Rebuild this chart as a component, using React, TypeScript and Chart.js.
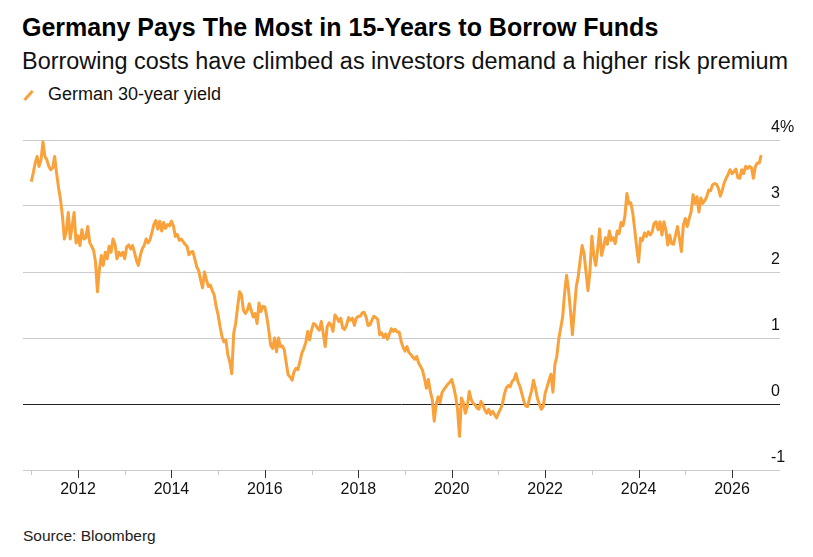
import { useEffect, useRef } from "react";
import { Chart, registerables } from "chart.js";

Chart.register(...registerables);

// German 30-year yield, read twice a month off the reference
const y2011 = [3.37, 3.5, 3.65, 3.75, 3.6, 3.7, 3.97, 3.75, 3.7, 3.6, 3.55, 3.58, 3.75, 3.5, 3.28, 3.1, 2.85, 2.5, 2.62, 2.9, 2.5, 2.7, 2.9, 2.44];
const y2012 = [2.55, 2.4, 2.64, 2.5, 2.52, 2.69, 2.45, 2.39, 2.33, 2.15, 1.7, 2.05, 2.25, 2.1, 2.3, 2.2, 2.39, 2.3, 2.5, 2.42, 2.2, 2.3, 2.25, 2.3];
const y2013 = [2.2, 2.38, 2.41, 2.35, 2.4, 2.3, 2.18, 2.1, 2.25, 2.35, 2.4, 2.5, 2.44, 2.49, 2.6, 2.72, 2.78, 2.65, 2.77, 2.62, 2.75, 2.66, 2.72, 2.7];
const y2014 = [2.77, 2.7, 2.54, 2.57, 2.48, 2.5, 2.46, 2.42, 2.39, 2.26, 2.3, 2.31, 2.2, 2.08, 2.02, 1.88, 1.76, 2.0, 1.88, 1.78, 1.8, 1.72, 1.65, 1.47];
const y2015 = [1.35, 1.17, 1.02, 0.94, 0.97, 0.74, 0.64, 0.46, 1.07, 1.22, 1.47, 1.7, 1.65, 1.42, 1.37, 1.42, 1.52, 1.42, 1.32, 1.37, 1.22, 1.53, 1.4, 1.48];
const y2016 = [1.47, 1.32, 1.12, 0.89, 0.84, 1.0, 0.79, 1.0, 0.87, 0.88, 0.82, 0.62, 0.44, 0.41, 0.36, 0.49, 0.54, 0.52, 0.64, 0.77, 0.84, 0.93, 1.1, 0.97];
const y2017 = [1.12, 1.22, 1.2, 1.15, 1.12, 1.25, 1.07, 0.87, 1.17, 1.23, 1.2, 1.1, 1.35, 1.31, 1.25, 1.3, 1.15, 1.13, 1.2, 1.31, 1.27, 1.3, 1.19, 1.3];
const y2018 = [1.33, 1.33, 1.38, 1.39, 1.32, 1.19, 1.2, 1.27, 1.33, 1.31, 1.28, 1.05, 1.08, 1.01, 1.06, 0.98, 1.06, 1.14, 1.1, 1.13, 1.09, 1.09, 0.95, 0.86];
const y2019 = [0.8, 0.87, 0.78, 0.75, 0.71, 0.68, 0.72, 0.62, 0.57, 0.51, 0.39, 0.24, 0.37, 0.19, 0.07, -0.26, -0.01, 0.11, 0.02, 0.17, 0.22, 0.26, 0.3, 0.33];
const y2020 = [0.37, 0.26, 0.12, -0.08, -0.49, 0.09, 0.02, -0.14, -0.04, 0.19, 0.07, 0.01, -0.01, -0.06, -0.08, 0.04, -0.01, -0.09, -0.14, -0.08, -0.16, -0.11, -0.16, -0.21];
const y2021 = [-0.14, -0.08, -0.01, 0.14, 0.24, 0.28, 0.26, 0.34, 0.37, 0.46, 0.34, 0.27, 0.16, 0.05, -0.03, -0.04, 0.09, 0.2, 0.36, 0.24, 0.09, 0, -0.08, -0.04];
const y2022 = [0.16, 0.26, 0.36, 0.45, 0.18, 0.6, 0.72, 0.99, 1.15, 1.32, 1.68, 1.95, 1.73, 1.42, 1.05, 1.42, 1.78, 1.93, 2.18, 2.4, 2.28, 2.0, 1.72, 2.0];
const y2023 = [2.54, 2.25, 2.1, 2.35, 2.65, 2.25, 2.38, 2.52, 2.42, 2.62, 2.48, 2.52, 2.43, 2.62, 2.58, 2.75, 2.7, 2.85, 3.19, 3.04, 3.05, 2.9, 2.65, 2.38];
const y2024 = [2.15, 2.51, 2.48, 2.59, 2.54, 2.61, 2.56, 2.61, 2.74, 2.76, 2.64, 2.76, 2.56, 2.76, 2.64, 2.41, 2.56, 2.43, 2.42, 2.56, 2.69, 2.51, 2.31, 2.71];
const y2025 = [2.81, 2.69, 2.81, 2.91, 3.17, 3.04, 3.14, 2.91, 3.12, 3.04, 3.08, 3.14, 3.24, 3.23, 3.32, 3.34, 3.33, 3.27, 3.15, 3.24, 3.35, 3.42, 3.48, 3.55];
const y2026 = [3.49, 3.52, 3.56, 3.43, 3.42, 3.55, 3.49, 3.6, 3.57, 3.6, 3.58, 3.42, 3.6, 3.65, 3.65, 3.77];

const seriesYears = [2011, 2012, 2013, 2014, 2015, 2016, 2017, 2018, 2019, 2020, 2021, 2022, 2023, 2024, 2025, 2026];
const yieldByYear = [y2011, y2012, y2013, y2014, y2015, y2016, y2017, y2018, y2019, y2020, y2021, y2022, y2023, y2024, y2025, y2026];

const tickYears = [2011, 2012, 2013, 2014, 2015, 2016, 2017, 2018, 2019, 2020, 2021, 2022, 2023, 2024, 2025, 2026];
const labeledYears = [2012, 2014, 2016, 2018, 2020, 2022, 2024, 2026];
const yTicks = [-1, 0, 1, 2, 3, 4];

const FONT = '"Liberation Sans", Arial, Helvetica, sans-serif';
const ORANGE = "#f9a13a";

// major/minor year ticks hanging under the axis
const yearTicks = {
  id: "yearTicks",
  afterDraw(chart: any) {
    const { ctx, chartArea, scales } = chart;
    const x = scales.x;
    ctx.save();
    ctx.lineWidth = 1;
    tickYears.forEach((yr) => {
      const px = Math.round(x.getPixelForValue(yr)) + 0.5;
      const major = labeledYears.includes(yr);
      ctx.strokeStyle = major ? "#333333" : "#c8c8c8";
      ctx.beginPath();
      ctx.moveTo(px, chartArea.bottom);
      ctx.lineTo(px, chartArea.bottom + (major ? 8 : 5));
      ctx.stroke();
    });
    ctx.restore();
  },
};

// value labels sit just above the right end of each gridline
const yLabels = {
  id: "yLabels",
  afterDraw(chart: any) {
    const { ctx, chartArea, scales } = chart;
    const y = scales.y;
    ctx.save();
    ctx.font = `16px ${FONT}`;
    ctx.fillStyle = "#111";
    ctx.textAlign = "left";
    ctx.textBaseline = "alphabetic";
    yTicks.forEach((v) => {
      const py = y.getPixelForValue(v);
      ctx.fillText(v === 4 ? "4%" : String(v), chartArea.right - 9, py - 8.5);
    });
    ctx.restore();
  },
};

const YieldChart = () => {
  const chartRef = useRef<HTMLCanvasElement>(null);

  useEffect(() => {
    if (!chartRef.current) return;
    const points = seriesYears.flatMap((yr, k) =>
      yieldByYear[k].map((v, i) => ({ x: yr + i / 24, y: v }))
    );
    const chart = new Chart(chartRef.current, {
      type: "line",
      data: {
        datasets: [
          {
            label: "German 30-year yield",
            data: points,
            borderColor: ORANGE,
            borderWidth: 3,
            pointRadius: 0,
            tension: 0,
            borderJoinStyle: "round",
          },
        ],
      },
      options: {
        animation: false,
        responsive: false,
        parsing: false,
        layout: { padding: { left: 23, top: 20, right: 0, bottom: 0 } },
        plugins: { legend: { display: false }, tooltip: { enabled: false } },
        scales: {
          x: {
            type: "linear",
            min: 2010.8226,
            max: 2027.0275,
            afterFit: (s: any) => {
              s.height = 50;
            },
            afterBuildTicks: (s: any) => {
              s.ticks = labeledYears.map((v) => ({ value: v }));
            },
            grid: { display: false, drawTicks: false },
            border: { display: false },
            ticks: {
              color: "#111",
              font: { family: FONT, size: 16 },
              padding: 10,
              maxRotation: 0,
              autoSkip: false,
              callback: (v: any) => String(v),
            },
          },
          y: {
            position: "right",
            min: -1,
            max: 4,
            afterFit: (s: any) => {
              s.width = 33;
            },
            afterBuildTicks: (s: any) => {
              s.ticks = yTicks.map((v) => ({ value: v }));
            },
            border: { display: false },
            grid: {
              drawTicks: false,
              lineWidth: 1,
              color: (c: any) => (c.tick && c.tick.value === 0 ? "#222222" : "#cccccc"),
            },
            ticks: { display: false },
          },
        },
      },
      plugins: [yearTicks, yLabels],
    });
    return () => {
      chart.destroy();
    };
  }, []);

  return (
    <canvas
      ref={chartRef}
      width={813}
      height={400}
      style={{ position: "absolute", left: 0, top: 120, width: 813, height: 400 }}
    ></canvas>
  );
};

export default function App() {
  return (
    <div
      style={{
        position: "absolute",
        left: 0,
        top: 0,
        width: 813,
        height: 557,
        background: "#fff",
        fontFamily: FONT,
        color: "#000",
        overflow: "hidden",
      }}
    >
      <div style={{ position: "absolute", left: 22, top: 15, fontSize: 25, lineHeight: "25px", fontWeight: 700, whiteSpace: "nowrap" }}>
        Germany Pays The Most in 15-Years to Borrow Funds
      </div>
      <div style={{ position: "absolute", left: 22, top: 49.5, fontSize: 23.45, lineHeight: "23.45px", whiteSpace: "nowrap", color: "#111" }}>
        Borrowing costs have climbed as investors demand a higher risk premium
      </div>
      <svg style={{ position: "absolute", left: 22, top: 88 }} width={14} height={14}>
        <line x1={2.5} y1={12} x2={10.5} y2={3} stroke={ORANGE} strokeWidth={3} />
      </svg>
      <div style={{ position: "absolute", left: 48, top: 85, fontSize: 18, lineHeight: "18px", whiteSpace: "nowrap", color: "#111" }}>
        German 30-year yield
      </div>
      <YieldChart />
      <div style={{ position: "absolute", left: 23, top: 528, fontSize: 15.5, lineHeight: "15.5px", whiteSpace: "nowrap", color: "#222" }}>
        Source: Bloomberg
      </div>
    </div>
  );
}
